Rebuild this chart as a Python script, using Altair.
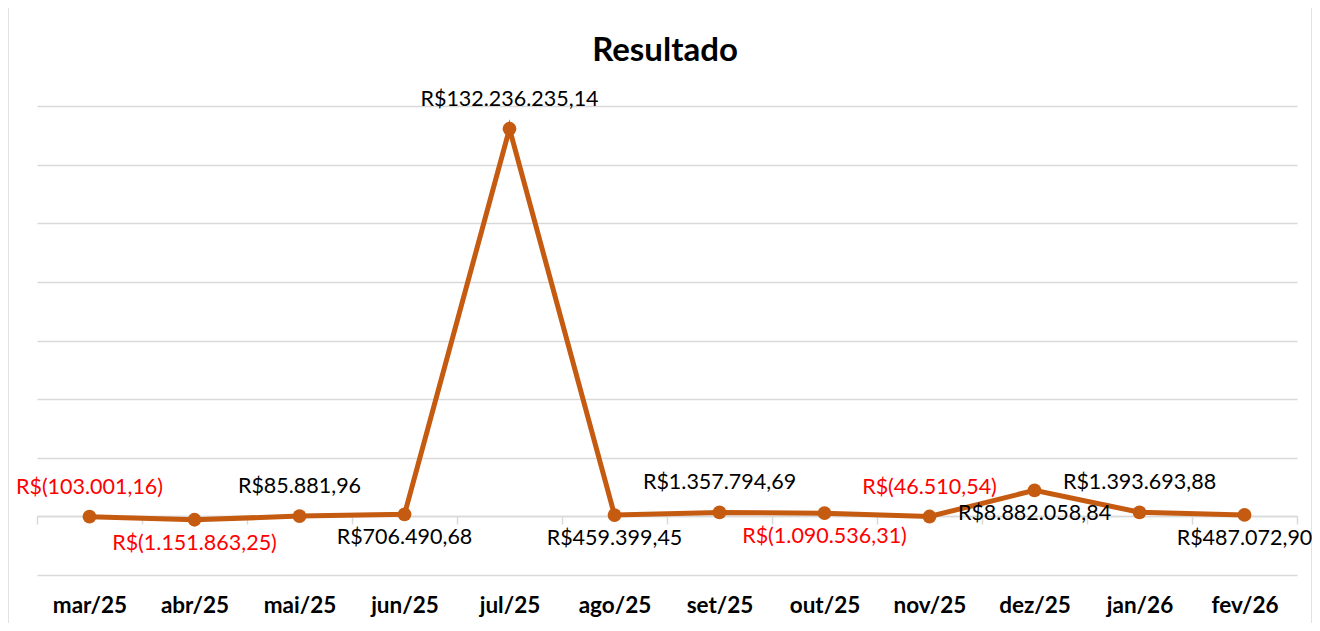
import altair as alt
import pandas as pd

months = ["mar/25", "abr/25", "mai/25", "jun/25", "jul/25", "ago/25",
          "set/25", "out/25", "nov/25", "dez/25", "jan/26", "fev/26"]
values = [-103001.16, -1151863.25, 85881.96, 706490.68, 132236235.14, 459399.45,
          1357794.69, 1090536.31, -46510.54, 8882058.84, 1393693.88, 487072.90]
labels = ["R$(103.001,16)", "R$(1.151.863,25)", "R$85.881,96", "R$706.490,68",
          "R$132.236.235,14", "R$459.399,45", "R$1.357.794,69", "R$(1.090.536,31)",
          "R$(46.510,54)", "R$8.882.058,84", "R$1.393.693,88", "R$487.072,90"]
grid_values = [-20e6, 0, 20e6, 40e6, 60e6, 80e6, 100e6, 120e6, 140e6]

df = pd.DataFrame({"mes": months, "valor": values, "rotulo": labels})
df["ordem"] = range(len(df))
df["negativo"] = df["rotulo"].str.contains(r"\(", regex=True)
df["acima"] = (df["ordem"] % 2) == 0

FONT = "Lato"
LINE = "#C55A11"
GRID = "#d9d9d9"
W, H = 1260, 469

x = alt.X("mes:N", sort=months, title=None,
          scale=alt.Scale(type="band", paddingInner=0, paddingOuter=0),
          axis=alt.Axis(offset=-59, domain=True, domainColor=GRID, domainWidth=1.5,
                        ticks=True, tickBand="extent", tickSize=8, tickColor=GRID,
                        tickWidth=1.5, labelFont=FONT, labelFontSize=22.5,
                        labelFontWeight="bold", labelColor="#000000",
                        labelPadding=81, labelBaseline="middle", labelAngle=0,
                        grid=False))
y = alt.Y("valor:Q", title=None,
          scale=alt.Scale(domain=[-20e6, 140e6], nice=False, zero=False),
          axis=alt.Axis(values=grid_values, labels=False, ticks=False, domain=False,
                        grid=True, gridColor=GRID, gridWidth=1.5))

base = alt.Chart(df).encode(x=x, y=y)

line = base.mark_line(color=LINE, strokeWidth=5)
pts = base.mark_circle(size=190, color=LINE, opacity=1)

color_cond = alt.condition("datum.negativo", alt.value("#FF0000"), alt.value("#000000"))
txt_up = base.transform_filter("datum.acima").mark_text(
    font=FONT, fontSize=21.5, dy=-29, baseline="middle").encode(text="rotulo:N", color=color_cond)
txt_dn = base.transform_filter("!datum.acima").mark_text(
    font=FONT, fontSize=21.5, dy=24, baseline="middle").encode(text="rotulo:N", color=color_cond)

title = alt.Chart(pd.DataFrame({"t": ["Resultado"]})).mark_text(
    font=FONT, fontSize=33, fontWeight="bold", color="#000000", baseline="middle"
).encode(text="t:N", x=alt.value(W / 2 - 2), y=alt.value(-55))

border = alt.Chart(pd.DataFrame({"t": [1]})).mark_rect(
    fillOpacity=0, stroke=GRID, strokeWidth=1.5
).encode(x=alt.value(-29), x2=alt.value(1275), y=alt.value(-99), y2=alt.value(530))

chart = alt.layer(border, line, pts, txt_up, txt_dn, title).properties(
    width=W, height=H,
    autosize=alt.AutoSizeParams(type="none"),
    padding={"left": 29, "top": 98, "right": 15, "bottom": 48},
    background="white",
).configure_view(strokeWidth=0)

chart.save("out.html", embed_options={"renderer": "svg", "actions": False})
